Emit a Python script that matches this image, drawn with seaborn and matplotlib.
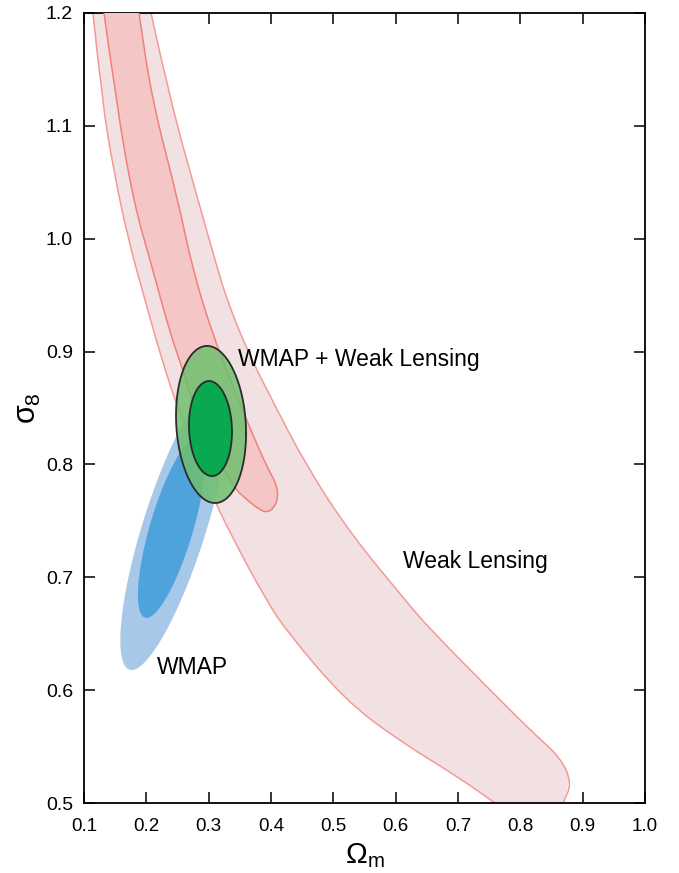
import numpy as np
import matplotlib
matplotlib.use("Agg")
import matplotlib.pyplot as plt
from matplotlib.path import Path
from matplotlib.patches import PathPatch
import seaborn as sns

# ---------------- data ----------------
# Weak lensing 95% band: left / right edges, top -> bottom  (Omega_m, sigma_8)
wl95_left_om = [0.1144, 0.1289, 0.1465, 0.1706, 0.1979, 0.2203, 0.2524, 0.3038,
                0.3342, 0.3920, 0.4273, 0.5187, 0.6038, 0.7000, 0.7594]
wl95_left_s8 = [1.2000, 1.1229, 1.0636, 0.9998, 0.9457, 0.9014, 0.8456, 0.7747,
                0.7393, 0.6799, 0.6506, 0.5913, 0.5558, 0.5231, 0.5000]
wl95_right_om = [0.2075, 0.2380, 0.2829, 0.3134, 0.3294, 0.3615, 0.4016, 0.4578,
                 0.5268, 0.6150, 0.6519, 0.7401, 0.8204, 0.8637, 0.8829, 0.8685]
wl95_right_s8 = [1.2000, 1.1229, 1.0343, 0.9749, 0.9457, 0.9014, 0.8571, 0.7977,
                 0.7393, 0.6799, 0.6560, 0.6064, 0.5620, 0.5408, 0.5178, 0.5000]

# Weak lensing 68% band: outline down the left edge, round the tip, up the right edge
wl68_om = [0.1321, 0.1513, 0.1786, 0.2091, 0.2380, 0.2572, 0.2797, 0.3070, 0.3391,
           0.3615, 0.3824, 0.3936, 0.4048, 0.4112, 0.4096, 0.3936, 0.3695, 0.3391,
           0.3054, 0.2733, 0.2508, 0.2091, 0.1882]
wl68_s8 = [1.2000, 1.1229, 1.0343, 0.9749, 0.9165, 0.8863, 0.8456, 0.8128, 0.7800,
           0.7685, 0.7597, 0.7574, 0.7614, 0.7703, 0.7818, 0.7977, 0.8279, 0.8686,
           0.9165, 0.9749, 1.0343, 1.1229, 1.2000]

# Gaussian contours: centre, half-extent in Omega_m, half-extent in sigma_8, correlation
wmap95 = dict(cx=0.2449, cy=0.7441, ax=0.0866, ay=0.1263, rho=0.791)
wmap68 = dict(cx=0.2404, cy=0.7437, ax=0.0539, ay=0.0797, rho=0.744)
comb95 = dict(cx=0.3038, cy=0.8354, ax=0.0562, ay=0.0696, rho=-0.114)
comb68 = dict(cx=0.3029, cy=0.8318, ax=0.0345, ay=0.0421, rho=-0.070)

x_ticks = [0.1, 0.2, 0.3, 0.4, 0.5, 0.6, 0.7, 0.8, 0.9, 1.0]
y_ticks = [0.5, 0.6, 0.7, 0.8, 0.9, 1.0, 1.1, 1.2]

labels = ["WMAP + Weak Lensing", "Weak Lensing", "WMAP"]
label_om = [0.347, 0.612, 0.217]
label_s8 = [0.8934, 0.7144, 0.6205]

# ---------------- style ----------------
sns.set_theme(style="ticks")
plt.rcParams["font.family"] = ["Liberation Sans", "DejaVu Sans"]
plt.rcParams["mathtext.fontset"] = "custom"
plt.rcParams["mathtext.rm"] = "Liberation Sans"
plt.rcParams["mathtext.it"] = "Liberation Sans"

fig = plt.figure(figsize=(6.79, 8.73), dpi=100)
ax = fig.add_axes([84 / 679, 1 - 803 / 873, 561 / 679, 790 / 873])


def smooth_segment(xs, ys, first=True):
    """Vertices/codes drawing a smooth (quadratic Bezier) curve along the points."""
    pts = np.column_stack([xs, ys])
    verts, codes = [pts[0]], [Path.MOVETO if first else Path.LINETO]
    for i in range(1, len(pts) - 1):
        verts += [pts[i], (pts[i] + pts[i + 1]) / 2]
        codes += [Path.CURVE3, Path.CURVE3]
    verts.append(pts[-1])
    codes.append(Path.LINETO)
    return verts, codes


def gauss_outline(p, n=400):
    t = np.linspace(0, 2 * np.pi, n)
    x = p["cx"] + p["ax"] * np.cos(t)
    y = p["cy"] + p["ay"] * (p["rho"] * np.cos(t) + np.sqrt(1 - p["rho"] ** 2) * np.sin(t))
    return x, y


# Weak lensing 95% band
v1, c1 = smooth_segment(wl95_left_om, wl95_left_s8)
v2, c2 = smooth_segment(wl95_right_om[::-1], wl95_right_s8[::-1], first=False)
band = Path(v1 + v2 + [v1[0]], c1 + c2 + [Path.CLOSEPOLY])
ax.add_patch(PathPatch(band, facecolor="#f2e1e2", lw=0, zorder=1))
for vv, cc in (smooth_segment(wl95_left_om, wl95_left_s8),
               smooth_segment(wl95_right_om, wl95_right_s8)):
    ax.add_patch(PathPatch(Path(vv, cc), fill=False, edgecolor="#f39a94", lw=1.1, zorder=2))

# Weak lensing 68% band
v3, c3 = smooth_segment(wl68_om, wl68_s8)
ax.add_patch(PathPatch(Path(v3 + [v3[0]], c3 + [Path.CLOSEPOLY]),
                       facecolor="#f5c6c6", lw=0, zorder=3))
ax.add_patch(PathPatch(Path(v3, c3), fill=False, edgecolor="#f0807a", lw=1.1, zorder=4))

# WMAP
x, y = gauss_outline(wmap95)
ax.fill(x, y, color="#a8c8ea", lw=0, zorder=5)
x, y = gauss_outline(wmap68)
ax.fill(x, y, color="#4fa3db", lw=0, zorder=6)

# WMAP + WL
x, y = gauss_outline(comb95)
ax.fill(x, y, color="#6fbf6f", alpha=0.85, lw=0, zorder=7)
sns.lineplot(x=x, y=y, sort=False, estimator=None, color="#2b2b2b", lw=1.3, ax=ax, zorder=9)
x, y = gauss_outline(comb68)
ax.fill(x, y, color="#00a84b", alpha=0.92, lw=0, zorder=8)
sns.lineplot(x=x, y=y, sort=False, estimator=None, color="#2b2b2b", lw=1.3, ax=ax, zorder=9)

for txt, ox, oy in zip(labels, label_om, label_s8):
    ax.text(ox, oy, txt, fontsize=16.5, ha="left", va="center", color="black", zorder=10)

ax.set_xlim(0.1, 1.0)
ax.set_ylim(0.5, 1.2)
ax.set_xticks(x_ticks)
ax.set_yticks(y_ticks)
ax.set_xticklabels([f"{v:.1f}" for v in x_ticks], fontsize=13.5)
ax.set_yticklabels([f"{v:.1f}" for v in y_ticks], fontsize=14)
ax.tick_params(direction="in", length=8, width=1.1, top=True, right=True,
               colors="black", pad=8)
ax.tick_params(axis="x", pad=11)
for s in ax.spines.values():
    s.set_color("black")
    s.set_linewidth(1.3)
ax.set_xlabel(r"$\Omega_\mathrm{m}$", fontsize=21, labelpad=4, color="black")
ax.set_ylabel(r"$\sigma_8$", fontsize=22, labelpad=2, color="black")
ax.grid(False)

fig.savefig("out.png", dpi=100)
